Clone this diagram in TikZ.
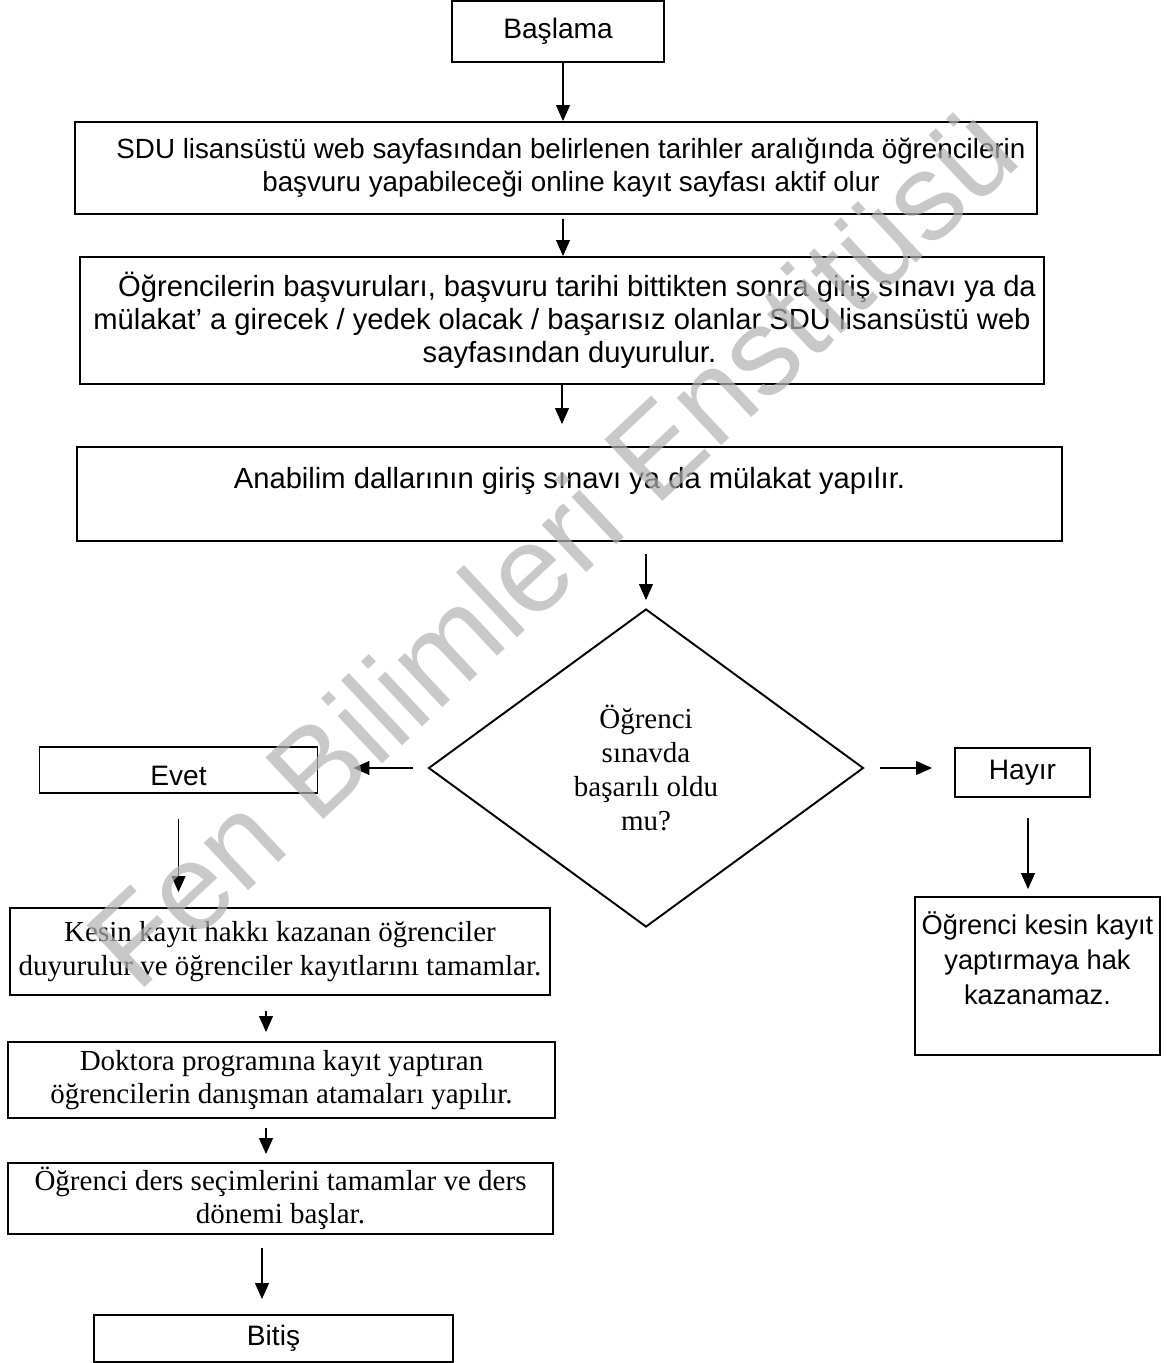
\documentclass[tikz,border=0pt]{standalone}
\usepackage{fontspec}
\setmainfont{Liberation Serif}
\setsansfont{Liberation Sans}
\usetikzlibrary{shapes.geometric}
\usetikzlibrary{arrows.meta}
\tikzset{
sans_box/.style={rectangle, draw, line width=1.1pt, fill=white, align=center, inner sep=0pt, font=\sffamily\fontsize{16}{18.8}\selectfont},
serif_box/.style={rectangle, draw, line width=1.1pt, fill=white, align=center, inner sep=0pt, font=\rmfamily\fontsize{16.5}{19}\selectfont},
decision/.style={diamond, draw, line width=1.1pt, align=center, inner sep=0pt, font=\rmfamily\fontsize{16.5}{19.5}\selectfont},
flow/.style={-{Triangle[length=3.2mm, width=2.8mm]}, line width=0.6pt},
watermark/.style={text=black!30, text opacity=0.7, font=\sffamily\fontsize{70}{72}\selectfont, rotate=43.2}
}

\begin{document}
\begin{tikzpicture}
    \useasboundingbox (0,0) rectangle (23.38,-27.26);
    % main column
    \node[sans_box, minimum width=4.24cm, minimum height=1.22cm] (start) at (11.16,-0.63) {Başlama};
    \node[sans_box, minimum width=19.24cm, minimum height=1.84cm, font=\sffamily\fontsize{15.8}{18.8}\selectfont] (web) at (11.12,-3.36) {\hspace*{0.6cm}SDU lisansüstü web sayfasından belirlenen tarihler aralığında öğrencilerin\\\hspace*{0.6cm}başvuru yapabileceği online kayıt sayfası aktif olur};
    \node[sans_box, minimum width=19.28cm, minimum height=2.54cm, font=\sffamily\fontsize{16.6}{18.8}\selectfont] (announce) at (11.24,-6.41) {\hspace*{0.6cm}Öğrencilerin başvuruları, başvuru tarihi bittikten sonra giriş sınavı ya da\\mülakat’ a girecek / yedek olacak / başarısız olanlar SDU lisansüstü web\\\hspace*{0.3cm}sayfasından duyurulur.};
    \node[sans_box, minimum width=19.70cm, minimum height=1.88cm, font=\sffamily\fontsize{16.6}{18.8}\selectfont] (exam) at (11.39,-9.88) {Anabilim dallarının giriş sınavı ya da mülakat yapılır.\\\mbox{}};
    \node[decision, minimum width=8.70cm, minimum height=6.36cm] (result) at (12.92,-15.36) {Öğrenci\\sınavda\\başarılı oldu\\mu?};
    % branches
    \node[sans_box, minimum width=5.56cm, minimum height=0.92cm] (yes) at (3.57,-15.40) {\raisebox{-0.12cm}[\height][\depth]{Evet}};
    \node[sans_box, minimum width=2.70cm, minimum height=0.98cm] (no) at (20.45,-15.45) {Hayır};
    \node[sans_box, minimum width=4.90cm, minimum height=3.16cm, font=\sffamily\fontsize{15.5}{20}\selectfont] (nohak) at (20.75,-19.52) {Öğrenci kesin kayıt\\yaptırmaya hak\\kazanamaz.\\\mbox{}};
    \node[serif_box, minimum width=10.80cm, minimum height=1.74cm] (kesin) at (5.60,-19.03) {Kesin kayıt hakkı kazanan öğrenciler\\duyurulur ve öğrenciler kayıtlarını tamamlar.};
    \node[serif_box, minimum width=10.94cm, minimum height=1.52cm] (doktora) at (5.63,-21.60) {Doktora programına kayıt yaptıran\\öğrencilerin danışman atamaları yapılır.};
    \node[serif_box, minimum width=10.90cm, minimum height=1.42cm] (ders) at (5.61,-23.97) {Öğrenci ders seçimlerini tamamlar ve ders\\dönemi başlar.};
    \node[sans_box, minimum width=7.18cm, minimum height=0.94cm] (bitis) at (5.47,-26.77) {Bitiş};
    % connectors
    \draw[flow] ([xshift=0.1cm]start.south) -- ([xshift=0.1cm]start.south |- web.north);
    \draw[flow, shorten <=0.08cm] ([xshift=0.14cm]web.south) -- ([xshift=0.14cm]web.south |- announce.north);
    \draw[flow, shorten >=0.44cm] (announce.south) -- (announce.south |- exam.north);
    \draw[flow, shorten <=0.24cm, shorten >=0.16cm] (exam.south -| result.north) -- (result.north);
    \draw[flow, shorten <=0.3cm, shorten >=0.7cm] (result.west) -- (result.west -| yes.east);
    \draw[flow, shorten <=0.32cm, shorten >=0.44cm] (result.east) -- (result.east -| no.west);
    \draw[flow, shorten <=0.5cm, shorten >=0.3cm] (yes.south) -- (yes.south |- kesin.north);
    \draw[flow, shorten <=0.4cm, shorten >=0.14cm] ([xshift=0.11cm]no.south) -- ([xshift=0.11cm]no.south |- nohak.north);
    \draw[flow, shorten <=0.3cm, shorten >=0.18cm] ([xshift=-0.28cm]kesin.south) -- ([xshift=-0.28cm]kesin.south |- doktora.north);
    \draw[flow, shorten <=0.18cm, shorten >=0.16cm] ([xshift=-0.31cm]doktora.south) -- ([xshift=-0.31cm]doktora.south |- ders.north);
    \draw[flow, shorten <=0.26cm, shorten >=0.3cm] ([xshift=-0.37cm]ders.south) -- ([xshift=-0.37cm]ders.south |- bitis.north);
    % watermark on top
    \node[watermark] (mark) at (11.02,-10.92) {Fen Bilimleri Enstitüsü};
\end{tikzpicture}
\end{document}
